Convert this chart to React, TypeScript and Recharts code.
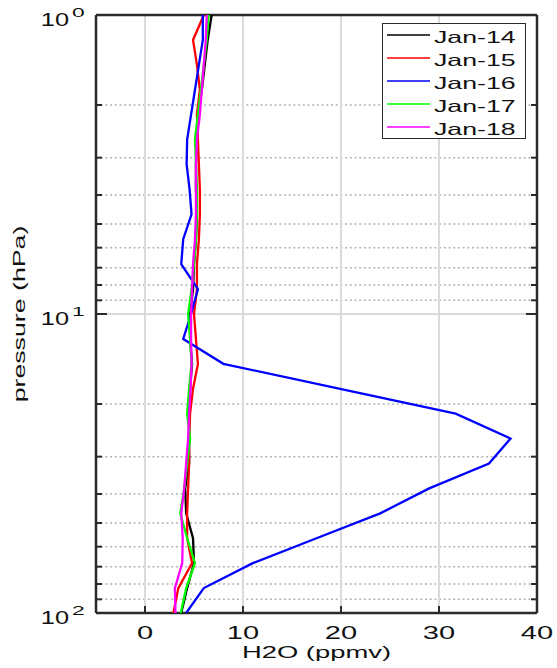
import React from 'react';
import { ScatterChart, Scatter, XAxis, YAxis, CartesianGrid } from 'recharts';

// Pressure levels (hPa), 12 per decade
const pressureLevels = [
  1.0, 1.212, 1.468, 1.778, 2.154, 2.61, 3.162, 3.831, 4.642, 5.623, 6.813, 8.254,
  10.0, 12.12, 14.68, 17.78, 21.54, 26.1, 31.62, 38.31, 46.42, 56.23, 68.13, 82.54, 100.0,
];

// H2O (ppmv) per level, top (1 hPa) to bottom (100 hPa)
const jan14 = [6.8, 6.4, 6.1, 5.8, 5.4, 5.3, 5.2, 5.2, 5.3, 5.2, 5.0, 4.9, 4.6, 4.6, 4.8, 4.6, 4.5, 4.5, 4.5, 4.1, 4.2, 4.9, 5.0, 4.3, 3.7];
const jan15 = [6.0, 4.9, 5.3, 5.6, 5.3, 5.4, 5.5, 5.6, 5.6, 5.5, 5.3, 5.3, 5.0, 5.2, 5.4, 4.9, 4.6, 4.5, 4.5, 4.4, 4.3, 4.3, 4.8, 3.4, 2.9];
const jan16 = [5.9, 5.9, 5.5, 5.1, 4.7, 4.3, 4.25, 4.55, 4.75, 3.9, 3.7, 5.4, 4.7, 3.9, 8.0, 19.8, 31.7, 37.3, 35.1, 29.0, 24.0, 17.5, 11.0, 6.0, 4.2];
const jan17 = [6.5, 6.3, 6.0, 5.7, 5.4, 5.1, 5.2, 5.3, 5.3, 5.2, 5.0, 4.75, 4.4, 4.6, 4.75, 4.5, 4.3, 4.6, 4.3, 4.0, 3.6, 4.3, 5.1, 4.2, 3.65];
const jan18 = [6.3, 6.2, 6.0, 5.8, 5.6, 5.3, 5.2, 5.2, 5.2, 5.1, 4.9, 4.8, 4.7, 4.7, 4.75, 4.65, 4.5, 4.4, 4.2, 4.0, 3.7, 3.85, 3.8, 3.05, 3.1];

const seriesNames = ['Jan-14', 'Jan-15', 'Jan-16', 'Jan-17', 'Jan-18'];
const seriesValues = [jan14, jan15, jan16, jan17, jan18];
const seriesColors = ['#000000', '#ff0000', '#0000ff', '#00ff00', '#ff00ff'];

const xTicks = [0, 10, 20, 30, 40];
const majorPressureTicks = [1, 10, 100];
const minorPressureTicks = [2, 3, 4, 5, 6, 7, 8, 9, 20, 30, 40, 50, 60, 70, 80, 90];
const allPressureTicks = [1, 2, 3, 4, 5, 6, 7, 8, 9, 10, 20, 30, 40, 50, 60, 70, 80, 90, 100];

const FONT = '"Liberation Sans", Arial, Helvetica, sans-serif';
const SX = 1.66;
const AXIS = '#2a2a2a';

const seriesData = seriesValues.map((vals) =>
  pressureLevels.map((p, i) => ({ x: vals[i], p }))
);

const isMajor = (v: number) => majorPressureTicks.includes(v);

const BottomTick = (props: any) => {
  const { x, y, payload } = props;
  return (
    <g>
      <line x1={x} y1={y} x2={x} y2={y - 7} stroke={AXIS} strokeWidth={2} />
      <g transform={`translate(${x},${y + 26}) scale(${SX},1)`}>
        <text x={0} y={0} textAnchor="middle" fontSize={17.5} fontFamily={FONT} fill="#111">
          {payload.value}
        </text>
      </g>
    </g>
  );
};

const TopTick = (props: any) => {
  const { x, y } = props;
  return <line x1={x} y1={y} x2={x} y2={y + 7} stroke={AXIS} strokeWidth={2} />;
};

const LeftTick = (props: any) => {
  const { x, y, payload } = props;
  const v = payload.value;
  const major = isMajor(v);
  const len = major ? 11 : 6;
  const exp = Math.round(Math.log10(v));
  return (
    <g>
      <line x1={x} y1={y} x2={x + len} y2={y} stroke={AXIS} strokeWidth={2} />
      {major && (
        <g>
          <g transform={`translate(${x - 27},${y + 11}) scale(1.45,1)`}>
            <text x={0} y={0} textAnchor="end" fontSize={17.5} fontFamily={FONT} fill="#111">
              10
            </text>
          </g>
          <g transform={`translate(${x - 24},${y + 2}) scale(1.9,1)`}>
            <text x={0} y={0} textAnchor="start" fontSize={12} fontFamily={FONT} fill="#111">
              {exp}
            </text>
          </g>
        </g>
      )}
    </g>
  );
};

const RightTick = (props: any) => {
  const { x, y, payload } = props;
  const len = isMajor(payload.value) ? 11 : 6;
  return <line x1={x} y1={y} x2={x - len} y2={y} stroke={AXIS} strokeWidth={2} />;
};

const XLabel = (props: any) => {
  const vb = props.viewBox || { x: 96, y: 613, width: 441, height: 40 };
  const cx = vb.x + vb.width / 2;
  return (
    <g transform={`translate(${cx},${vb.y + 45}) scale(${SX},1)`}>
      <text x={0} y={0} textAnchor="middle" fontSize={16.5} fontFamily={FONT} fill="#111">
        H2O (ppmv)
      </text>
    </g>
  );
};

const YLabel = (props: any) => {
  const vb = props.viewBox || { x: 36, y: 15, width: 60, height: 598 };
  const cy = vb.y + vb.height / 2;
  return (
    <g transform={`translate(${vb.x - 11},${cy}) rotate(-90) scale(1.62,1)`}>
      <text x={0} y={0} textAnchor="middle" fontSize={16.5} fontFamily={FONT} fill="#111">
        pressure (hPa)
      </text>
    </g>
  );
};

const LegendBox = () => (
  <div
    style={{
      position: 'absolute',
      left: 382,
      top: 23,
      width: 144,
      height: 116,
      boxSizing: 'border-box',
      border: `1.5px solid ${AXIS}`,
      background: '#fff',
    }}
  >
    <svg width={141} height={114} overflow="visible" style={{ position: 'absolute', left: 0, top: 0, overflow: 'visible' }}>
      {seriesNames.map((name, i) => {
        const ry = 11 + i * 23;
        return (
          <g key={name}>
            <line x1={4} y1={ry} x2={47} y2={ry} stroke={seriesColors[i]} strokeWidth={1.5} />
            <g transform={`translate(51,${ry + 7.5}) scale(1.62,1)`}>
              <text x={0} y={0} fontSize={16.5} fontFamily={FONT} fill="#111">
                {name}
              </text>
            </g>
          </g>
        );
      })}
    </svg>
  </div>
);

export default function App() {
  return (
    <div style={{ position: 'absolute', left: 0, top: 0, width: 557, height: 668, background: '#fff' }}>
      <ScatterChart width={557} height={668} margin={{ top: 10, right: 10, bottom: 15, left: 36 }}>
        <CartesianGrid
          xAxisId="b"
          yAxisId="minor"
          vertical={false}
          stroke="#b3b3b3"
          strokeWidth={1.5}
          strokeDasharray="2 2.7"
        />
        <CartesianGrid xAxisId="b" yAxisId="major" vertical={false} stroke="#dadada" strokeWidth={2} />
        <CartesianGrid xAxisId="b" yAxisId="l" horizontal={false} stroke="#dadada" strokeWidth={2} />
        <XAxis
          xAxisId="b"
          orientation="bottom"
          type="number"
          dataKey="x"
          domain={[-5, 40]}
          ticks={xTicks}
          interval={0}
          allowDataOverflow
          height={40}
          tickSize={0}
          tickMargin={0}
          tickLine={false}
          axisLine={{ stroke: AXIS, strokeWidth: 2.5 }}
          tick={BottomTick}
          label={XLabel}
        />
        <XAxis
          xAxisId="t"
          orientation="top"
          type="number"
          domain={[-5, 40]}
          ticks={xTicks}
          interval={0}
          allowDataOverflow
          height={5}
          tickSize={0}
          tickMargin={0}
          tickLine={false}
          axisLine={{ stroke: AXIS, strokeWidth: 2.5 }}
          tick={TopTick}
        />
        <YAxis
          yAxisId="l"
          orientation="left"
          type="number"
          dataKey="p"
          scale="log"
          domain={[1, 100]}
          reversed
          allowDataOverflow
          ticks={allPressureTicks}
          interval={0}
          width={60}
          tickSize={0}
          tickMargin={0}
          tickLine={false}
          axisLine={{ stroke: AXIS, strokeWidth: 2.5 }}
          tick={LeftTick}
          label={YLabel}
        />
        <YAxis
          yAxisId="r"
          orientation="right"
          type="number"
          scale="log"
          domain={[1, 100]}
          reversed
          allowDataOverflow
          ticks={allPressureTicks}
          interval={0}
          width={10}
          tickSize={0}
          tickMargin={0}
          tickLine={false}
          axisLine={{ stroke: AXIS, strokeWidth: 2.5 }}
          tick={RightTick}
        />
        <YAxis
          yAxisId="minor"
          hide
          type="number"
          scale="log"
          domain={[1, 100]}
          reversed
          allowDataOverflow
          ticks={minorPressureTicks}
          interval={0}
        />
        <YAxis
          yAxisId="major"
          hide
          type="number"
          scale="log"
          domain={[1, 100]}
          reversed
          allowDataOverflow
          ticks={[10]}
          interval={0}
        />
        {seriesNames.map((name, i) => (
          <Scatter
            key={name}
            name={name}
            xAxisId="b"
            yAxisId="l"
            data={seriesData[i]}
            fill={seriesColors[i]}
            line={{ strokeWidth: 2.3 }}
            lineType="joint"
            shape={() => <g />}
            isAnimationActive={false}
          />
        ))}
      </ScatterChart>
      <LegendBox />
    </div>
  );
}
